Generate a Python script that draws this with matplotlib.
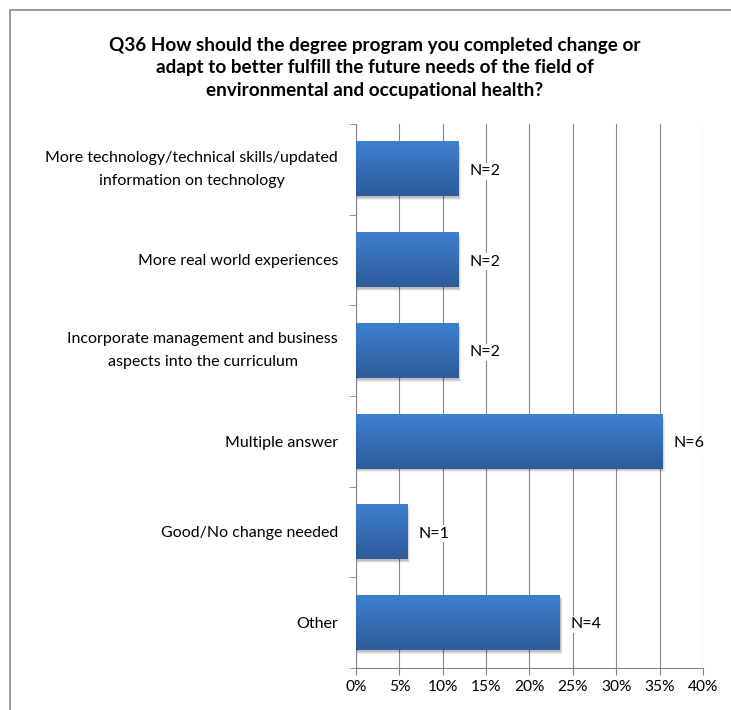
import numpy as np
import matplotlib.pyplot as plt
from matplotlib.patches import Rectangle
from matplotlib.transforms import ScaledTranslation

# Дані з графіка
categories = [
    'More technology/technical skills/updated\ninformation on technology',
    'More real world experiences',
    'Incorporate management and business\naspects into the curriculum',
    'Multiple answer',
    'Good/No change needed',
    'Other',
]
percents = [11.8, 11.8, 11.8, 35.3, 5.9, 23.5]
bar_labels = ['N=2', 'N=2', 'N=2', 'N=6', 'N=1', 'N=4']
xticks = [0, 5, 10, 15, 20, 25, 30, 35, 40]

title = ('Q36 How should the degree program you completed change or\n'
         'adapt to better fulfill the future needs of the field of\n'
         'environmental and occupational health?')

plt.rcParams['font.family'] = ['Lato', 'DejaVu Sans']

fig = plt.figure(figsize=(7.31, 7.10), dpi=100)
ax = fig.add_axes([0.487, 0.0592, 0.4746, 0.7662])

# Рамка навколо всього графіка
fig.patches.append(Rectangle((10 / 731, -0.05), 1.1, 1 - 10 / 710 + 0.05,
                             transform=fig.transFigure, fill=False,
                             edgecolor='#868686', linewidth=1.2))

fig.text(0.513, 0.948, title, ha='center', va='top', fontsize=13.6,
         fontweight='bold', linespacing=1.38)

n = len(categories)
ypos = np.arange(n)
bar_h = 0.6

# Градієнт для стовпців
grad = np.linspace(0, 1, 64).reshape(-1, 1)
top_c = np.array([0x3f, 0x7f, 0xcf]) / 255
bot_c = np.array([0x2c, 0x5c, 0x9a]) / 255
img = top_c * (1 - grad[..., None]) + bot_c * grad[..., None]

for y, v, lab in zip(ypos, percents, bar_labels):
    # тінь
    for k, a in enumerate([0.12, 0.09, 0.06]):
        d = 0.12 + k * 0.08
        ax.add_patch(Rectangle((0, y - bar_h / 2 + 0.02 + k * 0.012), v + d, bar_h,
                               facecolor='black', alpha=a, edgecolor='none', zorder=2))
    ax.imshow(img, extent=(0, v, y + bar_h / 2, y - bar_h / 2), aspect='auto',
              zorder=3, interpolation='bilinear')
    ax.text(v + 1.25, y + 0.02, lab, va='center', ha='left', fontsize=11.5, zorder=4,
            bbox=dict(facecolor='white', edgecolor='none', pad=1))

ax.set_xlim(0, 40)
ax.set_ylim(n - 0.5, -0.5)
ax.set_xticks(xticks)
ax.set_xticklabels([f'{t}%' for t in xticks], fontsize=11.2)
ax.set_yticks(ypos)
ax.set_yticklabels(categories, fontsize=11.5, multialignment='center', linespacing=1.85)
ax.tick_params(axis='y', length=0, pad=13)
ax.set_yticks(np.arange(n + 1) - 0.5, minor=True)
ax.tick_params(axis='y', which='minor', length=5, color='#868686')
ax.tick_params(axis='x', length=5, color='#868686', pad=4)
ax.xaxis.grid(True, color='#868686', linewidth=0.8)
ax.set_axisbelow(True)
for s in ['top', 'right']:
    ax.spines[s].set_visible(False)
for s in ['left', 'bottom']:
    ax.spines[s].set_color('#868686')

# дворядкові підписи трохи вище
for lbl in ax.get_yticklabels():
    if '\n' in lbl.get_text():
        lbl.set_transform(lbl.get_transform() + ScaledTranslation(0, 0.06, fig.dpi_scale_trans))

fig.savefig('out.png', dpi=100)
